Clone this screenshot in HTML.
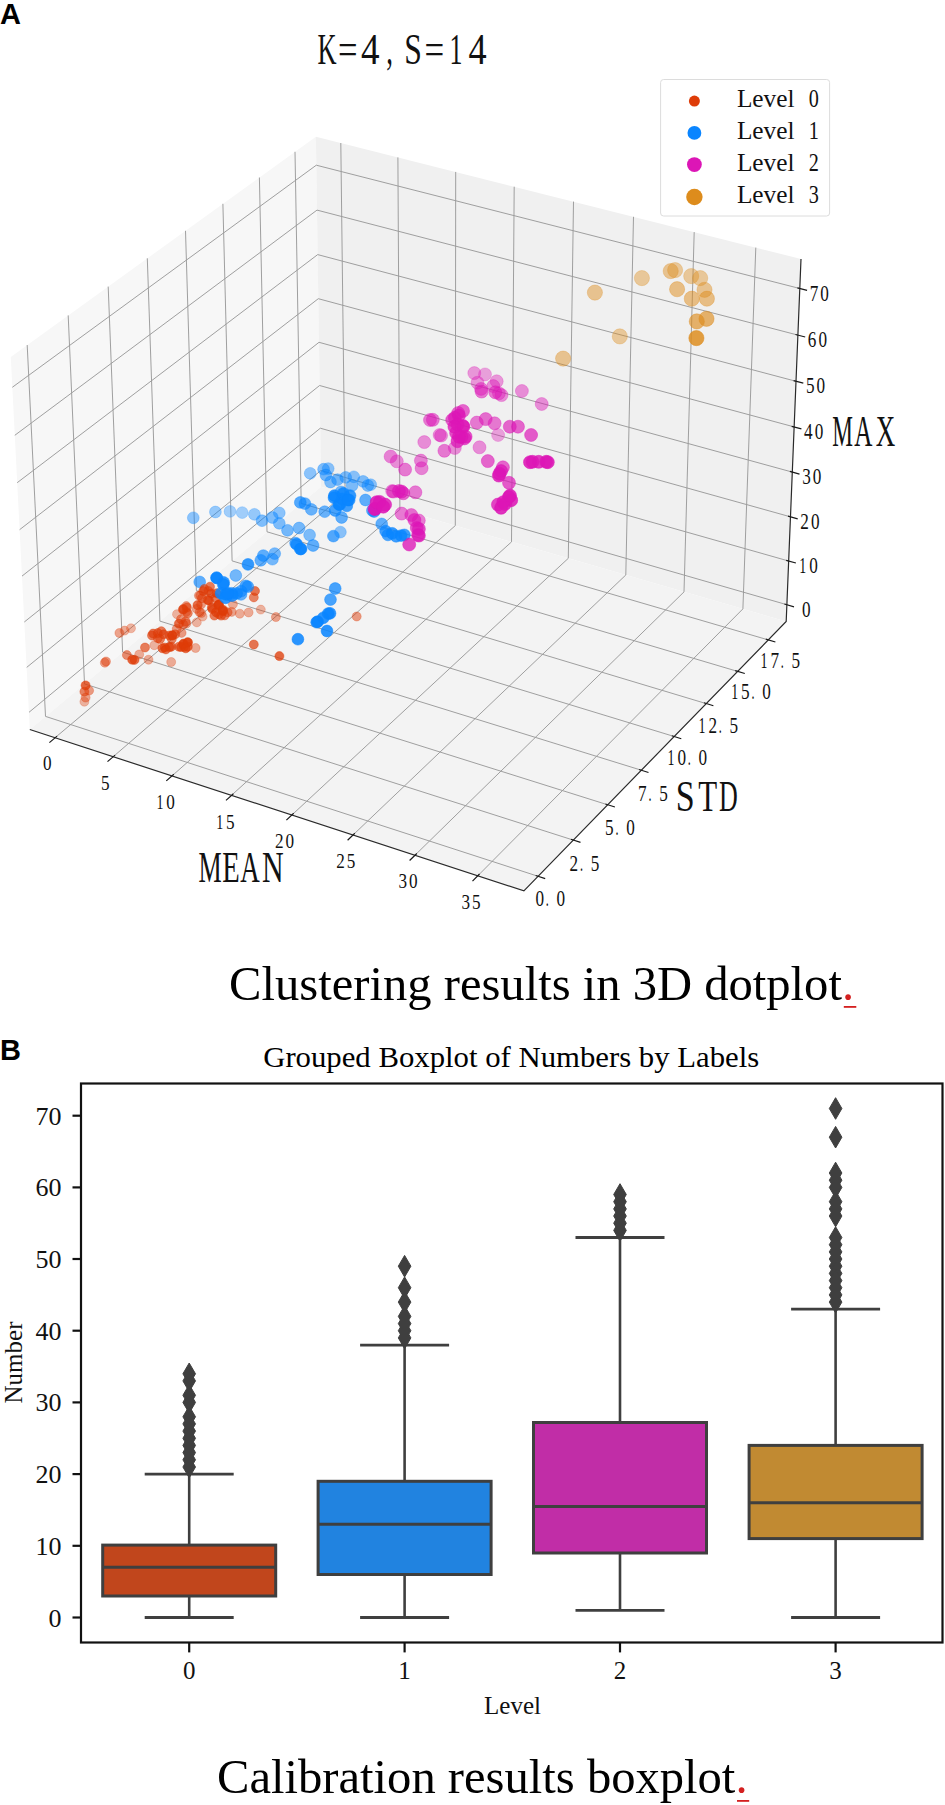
<!DOCTYPE html>
<html><head><meta charset="utf-8"><style>
html,body{margin:0;padding:0;background:#fff;width:945px;height:1805px;overflow:hidden}
svg{display:block}
</style></head><body>
<svg width="945" height="1805" viewBox="0 0 945 1805">
<rect width="945" height="1805" fill="#fff"/>
<text x="0" y="24" font-family="'Liberation Sans', sans-serif" font-weight="bold" font-size="29">A</text><g font-family="'Liberation Serif', serif" fill="#111"><text transform="translate(317.60,63.70) scale(0.592,1)" font-size="44.6" >K</text><text transform="translate(338.10,63.70) scale(0.776,1)" font-size="44.6" >=</text><text transform="translate(361.00,63.70) scale(0.831,1)" font-size="44.6" >4</text><text transform="translate(386.20,63.70) scale(0.602,1)" font-size="44.6" >,</text><text transform="translate(404.30,63.70) scale(0.711,1)" font-size="44.6" >S</text><text transform="translate(424.60,63.70) scale(0.784,1)" font-size="44.6" >=</text><text transform="translate(449.50,63.70) scale(0.580,1)" font-size="44.6" >1</text><text transform="translate(468.60,63.70) scale(0.813,1)" font-size="44.6" >4</text></g><polygon points="29.8,729.5 321.1,486.7 315.9,136.7 10.8,356.9" fill="#f7f7f7"/><polygon points="321.1,486.7 786.2,621.5 801.0,259.0 315.9,136.7" fill="#f0f0f0"/><polygon points="29.8,729.5 523.9,890.8 786.2,621.5 321.1,486.7" fill="#f3f3f3"/><path d="M55.1,737.7 L345.1,493.6 L340.8,143.0 M113.2,756.7 L399.9,509.5 L397.9,157.4 M172.0,775.9 L455.3,525.6 L455.7,171.9 M231.5,795.3 L511.5,541.9 L514.2,186.7 M291.9,815.0 L568.3,558.3 L573.5,201.6 M353.0,835.0 L625.8,575.0 L633.5,216.8 M415.0,855.2 L684.0,591.9 L694.2,232.1 M477.8,875.8 L742.9,608.9 L755.8,247.6 M538.1,876.3 L45.5,716.4 L27.2,345.0 M573.3,840.1 L84.5,683.9 L68.2,315.4 M607.7,804.8 L122.6,652.1 L108.2,286.6 M641.3,770.2 L159.9,621.1 L147.3,258.3 M674.2,736.5 L196.4,590.7 L185.5,230.8 M706.2,703.6 L232.1,560.9 L222.9,203.8 M737.6,671.4 L267.0,531.8 L259.4,177.5 M768.2,639.9 L301.2,503.4 L295.0,151.8 M29.0,712.3 L320.9,470.5 L786.8,604.7 M26.7,667.4 L320.3,428.2 L788.6,561.0 M24.3,622.0 L319.6,385.5 L790.4,516.8 M22.0,576.1 L319.0,342.3 L792.3,472.1 M19.6,529.7 L318.3,298.7 L794.1,426.9 M17.2,482.7 L317.7,254.6 L796.0,381.3 M14.8,435.3 L317.0,210.1 L797.9,335.1 M12.3,387.3 L316.3,165.2 L799.8,288.5" fill="none" stroke="#9a9a9a" stroke-width="0.95"/><path d="M29.8,729.5 L523.9,890.8 L786.2,621.5 L801.0,259.0" fill="none" stroke="#2a2a2a" stroke-width="1.2"/><path d="M49.4,742.6 L57.1,736.1 M107.5,761.6 L115.1,755.1 M166.3,780.9 L173.8,774.2 M226.0,800.4 L233.4,793.7 M286.4,820.1 L293.7,813.3 M347.6,840.2 L354.8,833.3 M409.6,860.5 L416.8,853.5 M472.5,881.1 L479.5,874.0 M545.2,878.6 L535.7,875.5 M580.5,842.4 L570.9,839.3 M614.9,807.0 L605.4,804.0 M648.5,772.5 L639.0,769.5 M681.3,738.7 L671.8,735.8 M713.4,705.7 L703.9,702.8 M744.8,673.5 L735.2,670.7 M775.4,642.0 L765.8,639.2 M794.0,606.8 L784.4,604.0 M795.9,563.0 L786.2,560.3 M797.7,518.8 L788.0,516.1 M799.5,474.1 L789.9,471.4 M801.4,428.9 L791.7,426.3 M803.3,383.2 L793.6,380.6 M805.2,337.0 L795.5,334.5 M807.1,290.4 L797.4,287.9" fill="none" stroke="#1a1a1a" stroke-width="1.2"/><g font-family="'Liberation Serif', serif" fill="#111"><text transform="translate(43.00,770.05) scale(0.800,1)" font-size="21.449704142011832" >0</text><text transform="translate(101.00,790.25) scale(0.800,1)" font-size="21.449704142011832" >5</text><text transform="translate(156.40,809.25) scale(0.651,1)" font-size="21.449704142011832" >1</text><text transform="translate(166.20,809.25) scale(0.800,1)" font-size="21.449704142011832" >0</text><text transform="translate(216.20,828.75) scale(0.651,1)" font-size="21.449704142011832" >1</text><text transform="translate(226.00,828.75) scale(0.800,1)" font-size="21.449704142011832" >5</text><text transform="translate(275.00,847.95) scale(0.800,1)" font-size="21.449704142011832" >2</text><text transform="translate(285.60,847.95) scale(0.800,1)" font-size="21.449704142011832" >0</text><text transform="translate(336.20,867.85) scale(0.800,1)" font-size="21.449704142011832" >2</text><text transform="translate(346.80,867.85) scale(0.800,1)" font-size="21.449704142011832" >5</text><text transform="translate(398.40,887.95) scale(0.800,1)" font-size="21.449704142011832" >3</text><text transform="translate(409.00,887.95) scale(0.800,1)" font-size="21.449704142011832" >0</text><text transform="translate(461.40,908.75) scale(0.800,1)" font-size="21.449704142011832" >3</text><text transform="translate(472.00,908.75) scale(0.800,1)" font-size="21.449704142011832" >5</text><text transform="translate(535.40,906.00) scale(0.773,1)" font-size="22.189349112426033" >0</text><text transform="translate(545.80,906.00) scale(0.545,1)" font-size="22.189349112426033" >.</text><text transform="translate(556.60,906.00) scale(0.773,1)" font-size="22.189349112426033" >0</text><text transform="translate(569.60,870.50) scale(0.773,1)" font-size="22.189349112426033" >2</text><text transform="translate(580.00,870.50) scale(0.545,1)" font-size="22.189349112426033" >.</text><text transform="translate(590.80,870.50) scale(0.773,1)" font-size="22.189349112426033" >5</text><text transform="translate(605.10,834.50) scale(0.773,1)" font-size="22.189349112426033" >5</text><text transform="translate(615.50,834.50) scale(0.545,1)" font-size="22.189349112426033" >.</text><text transform="translate(626.30,834.50) scale(0.773,1)" font-size="22.189349112426033" >0</text><text transform="translate(638.10,800.50) scale(0.773,1)" font-size="22.189349112426033" >7</text><text transform="translate(648.50,800.50) scale(0.545,1)" font-size="22.189349112426033" >.</text><text transform="translate(659.30,800.50) scale(0.773,1)" font-size="22.189349112426033" >5</text><text transform="translate(667.60,765.00) scale(0.629,1)" font-size="22.189349112426033" >1</text><text transform="translate(677.40,765.00) scale(0.773,1)" font-size="22.189349112426033" >0</text><text transform="translate(687.80,765.00) scale(0.545,1)" font-size="22.189349112426033" >.</text><text transform="translate(698.60,765.00) scale(0.773,1)" font-size="22.189349112426033" >0</text><text transform="translate(698.60,732.80) scale(0.629,1)" font-size="22.189349112426033" >1</text><text transform="translate(708.40,732.80) scale(0.773,1)" font-size="22.189349112426033" >2</text><text transform="translate(718.80,732.80) scale(0.545,1)" font-size="22.189349112426033" >.</text><text transform="translate(729.60,732.80) scale(0.773,1)" font-size="22.189349112426033" >5</text><text transform="translate(731.30,699.00) scale(0.629,1)" font-size="22.189349112426033" >1</text><text transform="translate(741.10,699.00) scale(0.773,1)" font-size="22.189349112426033" >5</text><text transform="translate(751.50,699.00) scale(0.545,1)" font-size="22.189349112426033" >.</text><text transform="translate(762.30,699.00) scale(0.773,1)" font-size="22.189349112426033" >0</text><text transform="translate(760.60,667.50) scale(0.629,1)" font-size="22.189349112426033" >1</text><text transform="translate(770.40,667.50) scale(0.773,1)" font-size="22.189349112426033" >7</text><text transform="translate(780.80,667.50) scale(0.545,1)" font-size="22.189349112426033" >.</text><text transform="translate(791.60,667.50) scale(0.773,1)" font-size="22.189349112426033" >5</text><text transform="translate(802.04,616.92) scale(0.773,1)" font-size="22.189349112426033" >0</text><text transform="translate(799.34,573.18) scale(0.629,1)" font-size="22.189349112426033" >1</text><text transform="translate(809.14,573.18) scale(0.773,1)" font-size="22.189349112426033" >0</text><text transform="translate(800.35,528.97) scale(0.773,1)" font-size="22.189349112426033" >2</text><text transform="translate(810.95,528.97) scale(0.773,1)" font-size="22.189349112426033" >0</text><text transform="translate(802.18,484.29) scale(0.773,1)" font-size="22.189349112426033" >3</text><text transform="translate(812.78,484.29) scale(0.773,1)" font-size="22.189349112426033" >0</text><text transform="translate(804.03,439.13) scale(0.773,1)" font-size="22.189349112426033" >4</text><text transform="translate(814.63,439.13) scale(0.773,1)" font-size="22.189349112426033" >0</text><text transform="translate(805.90,393.48) scale(0.773,1)" font-size="22.189349112426033" >5</text><text transform="translate(816.50,393.48) scale(0.773,1)" font-size="22.189349112426033" >0</text><text transform="translate(807.80,347.34) scale(0.773,1)" font-size="22.189349112426033" >6</text><text transform="translate(818.40,347.34) scale(0.773,1)" font-size="22.189349112426033" >0</text><text transform="translate(809.71,300.70) scale(0.773,1)" font-size="22.189349112426033" >7</text><text transform="translate(820.31,300.70) scale(0.773,1)" font-size="22.189349112426033" >0</text></g><g font-family="'Liberation Serif', serif" fill="#111"><text transform="translate(198.50,882.00) scale(0.585,1)" font-size="44.6" >M</text><text transform="translate(222.20,882.00) scale(0.642,1)" font-size="44.6" >E</text><text transform="translate(240.30,882.00) scale(0.605,1)" font-size="44.6" >A</text><text transform="translate(262.00,882.00) scale(0.673,1)" font-size="44.6" >N</text><text transform="translate(675.80,811.00) scale(0.764,1)" font-size="44.6" >S</text><text transform="translate(698.30,811.00) scale(0.694,1)" font-size="44.6" >T</text><text transform="translate(719.00,811.00) scale(0.583,1)" font-size="44.6" >D</text><text transform="translate(832.20,446.40) scale(0.522,1)" font-size="44.6" >M</text><text transform="translate(854.20,446.40) scale(0.564,1)" font-size="44.6" >A</text><text transform="translate(875.80,446.40) scale(0.605,1)" font-size="44.6" >X</text></g><g><circle cx="260.8" cy="609.6" r="4.5" fill="#de3c08" fill-opacity="0.36" stroke="#de3c08" stroke-opacity="0.28" stroke-width="0.8"/><circle cx="202.6" cy="616.6" r="4.5" fill="#de3c08" fill-opacity="0.36" stroke="#de3c08" stroke-opacity="0.28" stroke-width="0.8"/><circle cx="196.8" cy="622.4" r="4.5" fill="#de3c08" fill-opacity="0.36" stroke="#de3c08" stroke-opacity="0.28" stroke-width="0.8"/><circle cx="177.0" cy="614.2" r="4.5" fill="#de3c08" fill-opacity="0.36" stroke="#de3c08" stroke-opacity="0.28" stroke-width="0.8"/><circle cx="131.0" cy="628.3" r="4.5" fill="#de3c08" fill-opacity="0.36" stroke="#de3c08" stroke-opacity="0.28" stroke-width="0.8"/><circle cx="154.3" cy="645.2" r="4.5" fill="#de3c08" fill-opacity="0.36" stroke="#de3c08" stroke-opacity="0.28" stroke-width="0.8"/><circle cx="84.4" cy="701.7" r="4.5" fill="#de3c08" fill-opacity="0.36" stroke="#de3c08" stroke-opacity="0.28" stroke-width="0.8"/><circle cx="485.0" cy="374.4" r="6.5" fill="#dc16b6" fill-opacity="0.37" stroke="#dc16b6" stroke-opacity="0.28" stroke-width="0.8"/><circle cx="498.1" cy="435.0" r="6.5" fill="#dc16b6" fill-opacity="0.37" stroke="#dc16b6" stroke-opacity="0.28" stroke-width="0.8"/><circle cx="230.0" cy="511.4" r="5.9" fill="#0a85ff" fill-opacity="0.37" stroke="#0a85ff" stroke-opacity="0.28" stroke-width="0.8"/><circle cx="242.2" cy="512.6" r="5.9" fill="#0a85ff" fill-opacity="0.37" stroke="#0a85ff" stroke-opacity="0.28" stroke-width="0.8"/><circle cx="232.9" cy="604.3" r="4.5" fill="#de3c08" fill-opacity="0.40" stroke="#de3c08" stroke-opacity="0.31" stroke-width="0.8"/><circle cx="239.8" cy="613.7" r="4.5" fill="#de3c08" fill-opacity="0.40" stroke="#de3c08" stroke-opacity="0.31" stroke-width="0.8"/><circle cx="248.6" cy="612.5" r="4.5" fill="#de3c08" fill-opacity="0.40" stroke="#de3c08" stroke-opacity="0.31" stroke-width="0.8"/><circle cx="197.9" cy="604.9" r="4.5" fill="#de3c08" fill-opacity="0.40" stroke="#de3c08" stroke-opacity="0.31" stroke-width="0.8"/><circle cx="201.4" cy="613.1" r="4.5" fill="#de3c08" fill-opacity="0.40" stroke="#de3c08" stroke-opacity="0.31" stroke-width="0.8"/><circle cx="182.8" cy="609.6" r="4.5" fill="#de3c08" fill-opacity="0.40" stroke="#de3c08" stroke-opacity="0.31" stroke-width="0.8"/><circle cx="195.6" cy="648.0" r="4.5" fill="#de3c08" fill-opacity="0.40" stroke="#de3c08" stroke-opacity="0.31" stroke-width="0.8"/><circle cx="171.2" cy="662.0" r="4.5" fill="#de3c08" fill-opacity="0.40" stroke="#de3c08" stroke-opacity="0.31" stroke-width="0.8"/><circle cx="124.6" cy="630.6" r="4.5" fill="#de3c08" fill-opacity="0.40" stroke="#de3c08" stroke-opacity="0.31" stroke-width="0.8"/><circle cx="139.2" cy="654.5" r="4.5" fill="#de3c08" fill-opacity="0.40" stroke="#de3c08" stroke-opacity="0.31" stroke-width="0.8"/><circle cx="148.5" cy="659.7" r="4.5" fill="#de3c08" fill-opacity="0.40" stroke="#de3c08" stroke-opacity="0.31" stroke-width="0.8"/><circle cx="619.8" cy="336.4" r="7.6" fill="#dd8c1c" fill-opacity="0.41" stroke="#dd8c1c" stroke-opacity="0.32" stroke-width="0.8"/><circle cx="641.9" cy="278.1" r="7.6" fill="#dd8c1c" fill-opacity="0.41" stroke="#dd8c1c" stroke-opacity="0.32" stroke-width="0.8"/><circle cx="675.1" cy="270.1" r="7.6" fill="#dd8c1c" fill-opacity="0.41" stroke="#dd8c1c" stroke-opacity="0.32" stroke-width="0.8"/><circle cx="691.2" cy="276.1" r="7.6" fill="#dd8c1c" fill-opacity="0.41" stroke="#dd8c1c" stroke-opacity="0.32" stroke-width="0.8"/><circle cx="700.2" cy="278.1" r="7.6" fill="#dd8c1c" fill-opacity="0.41" stroke="#dd8c1c" stroke-opacity="0.32" stroke-width="0.8"/><circle cx="474.3" cy="373.1" r="6.5" fill="#dc16b6" fill-opacity="0.41" stroke="#dc16b6" stroke-opacity="0.32" stroke-width="0.8"/><circle cx="496.7" cy="381.3" r="6.5" fill="#dc16b6" fill-opacity="0.41" stroke="#dc16b6" stroke-opacity="0.32" stroke-width="0.8"/><circle cx="477.5" cy="382.7" r="6.5" fill="#dc16b6" fill-opacity="0.41" stroke="#dc16b6" stroke-opacity="0.32" stroke-width="0.8"/><circle cx="215.4" cy="512.0" r="5.9" fill="#0a85ff" fill-opacity="0.41" stroke="#0a85ff" stroke-opacity="0.32" stroke-width="0.8"/><circle cx="254.4" cy="514.3" r="5.9" fill="#0a85ff" fill-opacity="0.41" stroke="#0a85ff" stroke-opacity="0.32" stroke-width="0.8"/><circle cx="231.7" cy="611.9" r="4.5" fill="#de3c08" fill-opacity="0.45" stroke="#de3c08" stroke-opacity="0.34" stroke-width="0.8"/><circle cx="275.9" cy="617.1" r="4.5" fill="#de3c08" fill-opacity="0.45" stroke="#de3c08" stroke-opacity="0.34" stroke-width="0.8"/><circle cx="179.3" cy="623.6" r="4.5" fill="#de3c08" fill-opacity="0.45" stroke="#de3c08" stroke-opacity="0.34" stroke-width="0.8"/><circle cx="186.3" cy="623.6" r="4.5" fill="#de3c08" fill-opacity="0.45" stroke="#de3c08" stroke-opacity="0.34" stroke-width="0.8"/><circle cx="119.4" cy="633.0" r="4.5" fill="#de3c08" fill-opacity="0.45" stroke="#de3c08" stroke-opacity="0.34" stroke-width="0.8"/><circle cx="104.8" cy="662.7" r="4.5" fill="#de3c08" fill-opacity="0.45" stroke="#de3c08" stroke-opacity="0.34" stroke-width="0.8"/><circle cx="85.6" cy="697.6" r="4.5" fill="#de3c08" fill-opacity="0.45" stroke="#de3c08" stroke-opacity="0.34" stroke-width="0.8"/><circle cx="196.7" cy="608.9" r="4.5" fill="#de3c08" fill-opacity="0.45" stroke="#de3c08" stroke-opacity="0.34" stroke-width="0.8"/><circle cx="594.9" cy="292.6" r="7.6" fill="#dd8c1c" fill-opacity="0.46" stroke="#dd8c1c" stroke-opacity="0.35" stroke-width="0.8"/><circle cx="563.1" cy="358.6" r="7.6" fill="#dd8c1c" fill-opacity="0.46" stroke="#dd8c1c" stroke-opacity="0.35" stroke-width="0.8"/><circle cx="670.7" cy="271.1" r="7.6" fill="#dd8c1c" fill-opacity="0.46" stroke="#dd8c1c" stroke-opacity="0.35" stroke-width="0.8"/><circle cx="704.5" cy="289.8" r="7.6" fill="#dd8c1c" fill-opacity="0.46" stroke="#dd8c1c" stroke-opacity="0.35" stroke-width="0.8"/><circle cx="493.3" cy="386.1" r="6.5" fill="#dc16b6" fill-opacity="0.46" stroke="#dc16b6" stroke-opacity="0.35" stroke-width="0.8"/><circle cx="501.5" cy="395.1" r="6.5" fill="#dc16b6" fill-opacity="0.46" stroke="#dc16b6" stroke-opacity="0.35" stroke-width="0.8"/><circle cx="521.9" cy="391.0" r="6.5" fill="#dc16b6" fill-opacity="0.46" stroke="#dc16b6" stroke-opacity="0.35" stroke-width="0.8"/><circle cx="541.7" cy="404.0" r="6.5" fill="#dc16b6" fill-opacity="0.46" stroke="#dc16b6" stroke-opacity="0.35" stroke-width="0.8"/><circle cx="439.6" cy="435.0" r="6.5" fill="#dc16b6" fill-opacity="0.46" stroke="#dc16b6" stroke-opacity="0.35" stroke-width="0.8"/><circle cx="454.8" cy="448.0" r="6.5" fill="#dc16b6" fill-opacity="0.46" stroke="#dc16b6" stroke-opacity="0.35" stroke-width="0.8"/><circle cx="479.5" cy="447.3" r="6.5" fill="#dc16b6" fill-opacity="0.46" stroke="#dc16b6" stroke-opacity="0.35" stroke-width="0.8"/><circle cx="424.3" cy="442.1" r="6.5" fill="#dc16b6" fill-opacity="0.46" stroke="#dc16b6" stroke-opacity="0.35" stroke-width="0.8"/><circle cx="396.8" cy="461.3" r="6.5" fill="#dc16b6" fill-opacity="0.46" stroke="#dc16b6" stroke-opacity="0.35" stroke-width="0.8"/><circle cx="370.7" cy="484.7" r="5.9" fill="#0a85ff" fill-opacity="0.46" stroke="#0a85ff" stroke-opacity="0.35" stroke-width="0.8"/><circle cx="310.2" cy="473.3" r="5.9" fill="#0a85ff" fill-opacity="0.46" stroke="#0a85ff" stroke-opacity="0.35" stroke-width="0.8"/><circle cx="328.2" cy="468.6" r="5.9" fill="#0a85ff" fill-opacity="0.46" stroke="#0a85ff" stroke-opacity="0.35" stroke-width="0.8"/><circle cx="353.8" cy="476.8" r="5.9" fill="#0a85ff" fill-opacity="0.46" stroke="#0a85ff" stroke-opacity="0.35" stroke-width="0.8"/><circle cx="279.3" cy="512.9" r="5.9" fill="#0a85ff" fill-opacity="0.46" stroke="#0a85ff" stroke-opacity="0.35" stroke-width="0.8"/><circle cx="340.4" cy="532.1" r="5.9" fill="#0a85ff" fill-opacity="0.46" stroke="#0a85ff" stroke-opacity="0.35" stroke-width="0.8"/><circle cx="193.3" cy="517.8" r="5.9" fill="#0a85ff" fill-opacity="0.46" stroke="#0a85ff" stroke-opacity="0.35" stroke-width="0.8"/><circle cx="441.1" cy="435.6" r="6.5" fill="#dc16b6" fill-opacity="0.46" stroke="#dc16b6" stroke-opacity="0.35" stroke-width="0.8"/><circle cx="498.9" cy="393.3" r="6.5" fill="#dc16b6" fill-opacity="0.46" stroke="#dc16b6" stroke-opacity="0.35" stroke-width="0.8"/><circle cx="200.3" cy="595.6" r="4.5" fill="#de3c08" fill-opacity="0.49" stroke="#de3c08" stroke-opacity="0.37" stroke-width="0.8"/><circle cx="186.3" cy="606.1" r="4.5" fill="#de3c08" fill-opacity="0.49" stroke="#de3c08" stroke-opacity="0.37" stroke-width="0.8"/><circle cx="186.3" cy="611.9" r="4.5" fill="#de3c08" fill-opacity="0.49" stroke="#de3c08" stroke-opacity="0.37" stroke-width="0.8"/><circle cx="181.6" cy="632.9" r="4.5" fill="#de3c08" fill-opacity="0.49" stroke="#de3c08" stroke-opacity="0.37" stroke-width="0.8"/><circle cx="106.0" cy="661.5" r="4.5" fill="#de3c08" fill-opacity="0.49" stroke="#de3c08" stroke-opacity="0.37" stroke-width="0.8"/><circle cx="89.1" cy="690.6" r="4.5" fill="#de3c08" fill-opacity="0.49" stroke="#de3c08" stroke-opacity="0.37" stroke-width="0.8"/><circle cx="356.7" cy="616.5" r="4.5" fill="#de3c08" fill-opacity="0.49" stroke="#de3c08" stroke-opacity="0.37" stroke-width="0.8"/><circle cx="201.1" cy="604.4" r="4.5" fill="#de3c08" fill-opacity="0.49" stroke="#de3c08" stroke-opacity="0.37" stroke-width="0.8"/><circle cx="198.9" cy="595.6" r="4.5" fill="#de3c08" fill-opacity="0.49" stroke="#de3c08" stroke-opacity="0.37" stroke-width="0.8"/><circle cx="183.3" cy="624.4" r="4.5" fill="#de3c08" fill-opacity="0.49" stroke="#de3c08" stroke-opacity="0.37" stroke-width="0.8"/><circle cx="176.7" cy="628.9" r="4.5" fill="#de3c08" fill-opacity="0.49" stroke="#de3c08" stroke-opacity="0.37" stroke-width="0.8"/><circle cx="178.7" cy="623.8" r="4.5" fill="#de3c08" fill-opacity="0.49" stroke="#de3c08" stroke-opacity="0.37" stroke-width="0.8"/><circle cx="199.7" cy="612.2" r="4.5" fill="#de3c08" fill-opacity="0.49" stroke="#de3c08" stroke-opacity="0.37" stroke-width="0.8"/><circle cx="677.1" cy="289.2" r="7.6" fill="#dd8c1c" fill-opacity="0.51" stroke="#dd8c1c" stroke-opacity="0.39" stroke-width="0.8"/><circle cx="706.9" cy="298.7" r="7.6" fill="#dd8c1c" fill-opacity="0.51" stroke="#dd8c1c" stroke-opacity="0.39" stroke-width="0.8"/><circle cx="691.8" cy="298.7" r="7.6" fill="#dd8c1c" fill-opacity="0.51" stroke="#dd8c1c" stroke-opacity="0.39" stroke-width="0.8"/><circle cx="390.6" cy="456.5" r="6.5" fill="#dc16b6" fill-opacity="0.51" stroke="#dc16b6" stroke-opacity="0.39" stroke-width="0.8"/><circle cx="420.9" cy="460.6" r="6.5" fill="#dc16b6" fill-opacity="0.51" stroke="#dc16b6" stroke-opacity="0.39" stroke-width="0.8"/><circle cx="421.6" cy="468.2" r="6.5" fill="#dc16b6" fill-opacity="0.51" stroke="#dc16b6" stroke-opacity="0.39" stroke-width="0.8"/><circle cx="323.6" cy="469.2" r="5.9" fill="#0a85ff" fill-opacity="0.51" stroke="#0a85ff" stroke-opacity="0.39" stroke-width="0.8"/><circle cx="330.5" cy="482.0" r="5.9" fill="#0a85ff" fill-opacity="0.51" stroke="#0a85ff" stroke-opacity="0.39" stroke-width="0.8"/><circle cx="345.7" cy="477.4" r="5.9" fill="#0a85ff" fill-opacity="0.51" stroke="#0a85ff" stroke-opacity="0.39" stroke-width="0.8"/><circle cx="352.1" cy="485.5" r="5.9" fill="#0a85ff" fill-opacity="0.51" stroke="#0a85ff" stroke-opacity="0.39" stroke-width="0.8"/><circle cx="363.1" cy="481.4" r="5.9" fill="#0a85ff" fill-opacity="0.51" stroke="#0a85ff" stroke-opacity="0.39" stroke-width="0.8"/><circle cx="367.8" cy="485.5" r="5.9" fill="#0a85ff" fill-opacity="0.51" stroke="#0a85ff" stroke-opacity="0.39" stroke-width="0.8"/><circle cx="272.3" cy="517.5" r="5.9" fill="#0a85ff" fill-opacity="0.51" stroke="#0a85ff" stroke-opacity="0.39" stroke-width="0.8"/><circle cx="279.3" cy="523.3" r="5.9" fill="#0a85ff" fill-opacity="0.51" stroke="#0a85ff" stroke-opacity="0.39" stroke-width="0.8"/><circle cx="309.6" cy="535.0" r="5.9" fill="#0a85ff" fill-opacity="0.51" stroke="#0a85ff" stroke-opacity="0.39" stroke-width="0.8"/><circle cx="262.0" cy="520.7" r="5.9" fill="#0a85ff" fill-opacity="0.51" stroke="#0a85ff" stroke-opacity="0.39" stroke-width="0.8"/><circle cx="392.2" cy="491.1" r="6.5" fill="#dc16b6" fill-opacity="0.51" stroke="#dc16b6" stroke-opacity="0.39" stroke-width="0.8"/><circle cx="481.1" cy="388.9" r="6.5" fill="#dc16b6" fill-opacity="0.51" stroke="#dc16b6" stroke-opacity="0.39" stroke-width="0.8"/><circle cx="181.0" cy="619.2" r="4.5" fill="#de3c08" fill-opacity="0.53" stroke="#de3c08" stroke-opacity="0.40" stroke-width="0.8"/><circle cx="197.4" cy="605.2" r="4.5" fill="#de3c08" fill-opacity="0.53" stroke="#de3c08" stroke-opacity="0.40" stroke-width="0.8"/><circle cx="481.6" cy="391.6" r="6.5" fill="#dc16b6" fill-opacity="0.55" stroke="#dc16b6" stroke-opacity="0.42" stroke-width="0.8"/><circle cx="495.3" cy="392.3" r="6.5" fill="#dc16b6" fill-opacity="0.55" stroke="#dc16b6" stroke-opacity="0.42" stroke-width="0.8"/><circle cx="432.8" cy="419.8" r="6.5" fill="#dc16b6" fill-opacity="0.55" stroke="#dc16b6" stroke-opacity="0.42" stroke-width="0.8"/><circle cx="444.4" cy="450.8" r="6.5" fill="#dc16b6" fill-opacity="0.55" stroke="#dc16b6" stroke-opacity="0.42" stroke-width="0.8"/><circle cx="476.8" cy="422.6" r="6.5" fill="#dc16b6" fill-opacity="0.55" stroke="#dc16b6" stroke-opacity="0.42" stroke-width="0.8"/><circle cx="494.6" cy="423.3" r="6.5" fill="#dc16b6" fill-opacity="0.55" stroke="#dc16b6" stroke-opacity="0.42" stroke-width="0.8"/><circle cx="405.1" cy="469.6" r="6.5" fill="#dc16b6" fill-opacity="0.55" stroke="#dc16b6" stroke-opacity="0.42" stroke-width="0.8"/><circle cx="393.4" cy="491.6" r="6.5" fill="#dc16b6" fill-opacity="0.55" stroke="#dc16b6" stroke-opacity="0.42" stroke-width="0.8"/><circle cx="415.4" cy="492.3" r="6.5" fill="#dc16b6" fill-opacity="0.55" stroke="#dc16b6" stroke-opacity="0.42" stroke-width="0.8"/><circle cx="401.6" cy="513.6" r="6.5" fill="#dc16b6" fill-opacity="0.55" stroke="#dc16b6" stroke-opacity="0.42" stroke-width="0.8"/><circle cx="418.8" cy="520.5" r="6.5" fill="#dc16b6" fill-opacity="0.55" stroke="#dc16b6" stroke-opacity="0.42" stroke-width="0.8"/><circle cx="325.9" cy="475.0" r="5.9" fill="#0a85ff" fill-opacity="0.55" stroke="#0a85ff" stroke-opacity="0.42" stroke-width="0.8"/><circle cx="337.5" cy="479.7" r="5.9" fill="#0a85ff" fill-opacity="0.55" stroke="#0a85ff" stroke-opacity="0.42" stroke-width="0.8"/><circle cx="341.0" cy="491.9" r="5.9" fill="#0a85ff" fill-opacity="0.55" stroke="#0a85ff" stroke-opacity="0.42" stroke-width="0.8"/><circle cx="287.5" cy="530.3" r="5.9" fill="#0a85ff" fill-opacity="0.55" stroke="#0a85ff" stroke-opacity="0.42" stroke-width="0.8"/><circle cx="299.1" cy="528.0" r="5.9" fill="#0a85ff" fill-opacity="0.55" stroke="#0a85ff" stroke-opacity="0.42" stroke-width="0.8"/><circle cx="274.7" cy="553.6" r="5.9" fill="#0a85ff" fill-opacity="0.55" stroke="#0a85ff" stroke-opacity="0.42" stroke-width="0.8"/><circle cx="272.4" cy="559.2" r="5.9" fill="#0a85ff" fill-opacity="0.55" stroke="#0a85ff" stroke-opacity="0.42" stroke-width="0.8"/><circle cx="235.8" cy="575.5" r="5.9" fill="#0a85ff" fill-opacity="0.55" stroke="#0a85ff" stroke-opacity="0.42" stroke-width="0.8"/><circle cx="430.0" cy="420.0" r="6.5" fill="#dc16b6" fill-opacity="0.55" stroke="#dc16b6" stroke-opacity="0.42" stroke-width="0.8"/><circle cx="208.4" cy="591.0" r="4.5" fill="#de3c08" fill-opacity="0.57" stroke="#de3c08" stroke-opacity="0.43" stroke-width="0.8"/><circle cx="224.7" cy="615.4" r="4.5" fill="#de3c08" fill-opacity="0.57" stroke="#de3c08" stroke-opacity="0.43" stroke-width="0.8"/><circle cx="218.9" cy="614.2" r="4.5" fill="#de3c08" fill-opacity="0.57" stroke="#de3c08" stroke-opacity="0.43" stroke-width="0.8"/><circle cx="126.9" cy="655.1" r="4.5" fill="#de3c08" fill-opacity="0.57" stroke="#de3c08" stroke-opacity="0.43" stroke-width="0.8"/><circle cx="157.8" cy="638.2" r="4.5" fill="#de3c08" fill-opacity="0.57" stroke="#de3c08" stroke-opacity="0.43" stroke-width="0.8"/><circle cx="183.3" cy="608.9" r="4.5" fill="#de3c08" fill-opacity="0.57" stroke="#de3c08" stroke-opacity="0.43" stroke-width="0.8"/><circle cx="183.4" cy="609.8" r="4.5" fill="#de3c08" fill-opacity="0.57" stroke="#de3c08" stroke-opacity="0.43" stroke-width="0.8"/><circle cx="185.7" cy="621.5" r="4.5" fill="#de3c08" fill-opacity="0.57" stroke="#de3c08" stroke-opacity="0.43" stroke-width="0.8"/><circle cx="202.0" cy="598.2" r="4.5" fill="#de3c08" fill-opacity="0.57" stroke="#de3c08" stroke-opacity="0.43" stroke-width="0.8"/><circle cx="227.6" cy="612.2" r="4.5" fill="#de3c08" fill-opacity="0.57" stroke="#de3c08" stroke-opacity="0.43" stroke-width="0.8"/><circle cx="485.7" cy="419.1" r="6.5" fill="#dc16b6" fill-opacity="0.60" stroke="#dc16b6" stroke-opacity="0.45" stroke-width="0.8"/><circle cx="411.3" cy="515.0" r="6.5" fill="#dc16b6" fill-opacity="0.60" stroke="#dc16b6" stroke-opacity="0.45" stroke-width="0.8"/><circle cx="324.7" cy="511.7" r="5.9" fill="#0a85ff" fill-opacity="0.60" stroke="#0a85ff" stroke-opacity="0.45" stroke-width="0.8"/><circle cx="311.3" cy="509.4" r="5.9" fill="#0a85ff" fill-opacity="0.60" stroke="#0a85ff" stroke-opacity="0.45" stroke-width="0.8"/><circle cx="253.8" cy="597.4" r="4.5" fill="#de3c08" fill-opacity="0.61" stroke="#de3c08" stroke-opacity="0.46" stroke-width="0.8"/><circle cx="84.4" cy="691.8" r="4.5" fill="#de3c08" fill-opacity="0.61" stroke="#de3c08" stroke-opacity="0.46" stroke-width="0.8"/><circle cx="187.8" cy="613.3" r="4.5" fill="#de3c08" fill-opacity="0.61" stroke="#de3c08" stroke-opacity="0.46" stroke-width="0.8"/><circle cx="175.2" cy="634.3" r="4.5" fill="#de3c08" fill-opacity="0.61" stroke="#de3c08" stroke-opacity="0.46" stroke-width="0.8"/><circle cx="171.8" cy="639.0" r="4.5" fill="#de3c08" fill-opacity="0.61" stroke="#de3c08" stroke-opacity="0.46" stroke-width="0.8"/><circle cx="186.9" cy="607.5" r="4.5" fill="#de3c08" fill-opacity="0.61" stroke="#de3c08" stroke-opacity="0.46" stroke-width="0.8"/><circle cx="696.8" cy="321.4" r="7.6" fill="#dd8c1c" fill-opacity="0.64" stroke="#dd8c1c" stroke-opacity="0.49" stroke-width="0.8"/><circle cx="706.5" cy="318.8" r="7.6" fill="#dd8c1c" fill-opacity="0.64" stroke="#dd8c1c" stroke-opacity="0.49" stroke-width="0.8"/><circle cx="458.2" cy="413.0" r="6.5" fill="#dc16b6" fill-opacity="0.64" stroke="#dc16b6" stroke-opacity="0.49" stroke-width="0.8"/><circle cx="463.0" cy="410.9" r="6.5" fill="#dc16b6" fill-opacity="0.64" stroke="#dc16b6" stroke-opacity="0.49" stroke-width="0.8"/><circle cx="509.8" cy="426.7" r="6.5" fill="#dc16b6" fill-opacity="0.64" stroke="#dc16b6" stroke-opacity="0.49" stroke-width="0.8"/><circle cx="518.0" cy="426.7" r="6.5" fill="#dc16b6" fill-opacity="0.64" stroke="#dc16b6" stroke-opacity="0.49" stroke-width="0.8"/><circle cx="487.8" cy="461.1" r="6.5" fill="#dc16b6" fill-opacity="0.64" stroke="#dc16b6" stroke-opacity="0.49" stroke-width="0.8"/><circle cx="502.9" cy="467.3" r="6.5" fill="#dc16b6" fill-opacity="0.64" stroke="#dc16b6" stroke-opacity="0.49" stroke-width="0.8"/><circle cx="381.7" cy="523.9" r="5.9" fill="#0a85ff" fill-opacity="0.64" stroke="#0a85ff" stroke-opacity="0.49" stroke-width="0.8"/><circle cx="341.6" cy="517.5" r="5.9" fill="#0a85ff" fill-opacity="0.64" stroke="#0a85ff" stroke-opacity="0.49" stroke-width="0.8"/><circle cx="304.9" cy="503.6" r="5.9" fill="#0a85ff" fill-opacity="0.64" stroke="#0a85ff" stroke-opacity="0.49" stroke-width="0.8"/><circle cx="365.5" cy="500.0" r="5.9" fill="#0a85ff" fill-opacity="0.64" stroke="#0a85ff" stroke-opacity="0.49" stroke-width="0.8"/><circle cx="372.4" cy="510.5" r="5.9" fill="#0a85ff" fill-opacity="0.64" stroke="#0a85ff" stroke-opacity="0.49" stroke-width="0.8"/><circle cx="313.1" cy="545.5" r="5.9" fill="#0a85ff" fill-opacity="0.64" stroke="#0a85ff" stroke-opacity="0.49" stroke-width="0.8"/><circle cx="260.8" cy="560.3" r="5.9" fill="#0a85ff" fill-opacity="0.64" stroke="#0a85ff" stroke-opacity="0.49" stroke-width="0.8"/><circle cx="199.7" cy="581.9" r="5.9" fill="#0a85ff" fill-opacity="0.64" stroke="#0a85ff" stroke-opacity="0.49" stroke-width="0.8"/><circle cx="241.0" cy="594.4" r="5.9" fill="#0a85ff" fill-opacity="0.64" stroke="#0a85ff" stroke-opacity="0.49" stroke-width="0.8"/><circle cx="403.3" cy="493.3" r="6.5" fill="#dc16b6" fill-opacity="0.64" stroke="#dc16b6" stroke-opacity="0.49" stroke-width="0.8"/><circle cx="241.1" cy="591.1" r="5.9" fill="#0a85ff" fill-opacity="0.64" stroke="#0a85ff" stroke-opacity="0.49" stroke-width="0.8"/><circle cx="263.3" cy="555.6" r="5.9" fill="#0a85ff" fill-opacity="0.64" stroke="#0a85ff" stroke-opacity="0.49" stroke-width="0.8"/><circle cx="215.4" cy="597.9" r="4.5" fill="#de3c08" fill-opacity="0.65" stroke="#de3c08" stroke-opacity="0.49" stroke-width="0.8"/><circle cx="211.9" cy="607.3" r="4.5" fill="#de3c08" fill-opacity="0.65" stroke="#de3c08" stroke-opacity="0.49" stroke-width="0.8"/><circle cx="145.0" cy="647.5" r="4.5" fill="#de3c08" fill-opacity="0.65" stroke="#de3c08" stroke-opacity="0.49" stroke-width="0.8"/><circle cx="161.3" cy="631.2" r="4.5" fill="#de3c08" fill-opacity="0.65" stroke="#de3c08" stroke-opacity="0.49" stroke-width="0.8"/><circle cx="210.0" cy="586.7" r="4.5" fill="#de3c08" fill-opacity="0.65" stroke="#de3c08" stroke-opacity="0.49" stroke-width="0.8"/><circle cx="214.4" cy="615.6" r="4.5" fill="#de3c08" fill-opacity="0.65" stroke="#de3c08" stroke-opacity="0.49" stroke-width="0.8"/><circle cx="178.9" cy="646.7" r="4.5" fill="#de3c08" fill-opacity="0.65" stroke="#de3c08" stroke-opacity="0.49" stroke-width="0.8"/><circle cx="152.0" cy="635.5" r="4.5" fill="#de3c08" fill-opacity="0.65" stroke="#de3c08" stroke-opacity="0.49" stroke-width="0.8"/><circle cx="169.4" cy="635.5" r="4.5" fill="#de3c08" fill-opacity="0.65" stroke="#de3c08" stroke-opacity="0.49" stroke-width="0.8"/><circle cx="160.1" cy="639.0" r="4.5" fill="#de3c08" fill-opacity="0.65" stroke="#de3c08" stroke-opacity="0.49" stroke-width="0.8"/><circle cx="204.4" cy="588.9" r="4.5" fill="#de3c08" fill-opacity="0.65" stroke="#de3c08" stroke-opacity="0.49" stroke-width="0.8"/><circle cx="255.0" cy="591.0" r="4.5" fill="#de3c08" fill-opacity="0.69" stroke="#de3c08" stroke-opacity="0.52" stroke-width="0.8"/><circle cx="253.8" cy="644.5" r="4.5" fill="#de3c08" fill-opacity="0.69" stroke="#de3c08" stroke-opacity="0.52" stroke-width="0.8"/><circle cx="222.4" cy="610.7" r="4.5" fill="#de3c08" fill-opacity="0.69" stroke="#de3c08" stroke-opacity="0.52" stroke-width="0.8"/><circle cx="172.3" cy="635.2" r="4.5" fill="#de3c08" fill-opacity="0.69" stroke="#de3c08" stroke-opacity="0.52" stroke-width="0.8"/><circle cx="184.0" cy="646.8" r="4.5" fill="#de3c08" fill-opacity="0.69" stroke="#de3c08" stroke-opacity="0.52" stroke-width="0.8"/><circle cx="171.2" cy="646.8" r="4.5" fill="#de3c08" fill-opacity="0.69" stroke="#de3c08" stroke-opacity="0.52" stroke-width="0.8"/><circle cx="164.8" cy="647.5" r="4.5" fill="#de3c08" fill-opacity="0.69" stroke="#de3c08" stroke-opacity="0.52" stroke-width="0.8"/><circle cx="153.1" cy="633.6" r="4.5" fill="#de3c08" fill-opacity="0.69" stroke="#de3c08" stroke-opacity="0.52" stroke-width="0.8"/><circle cx="203.3" cy="591.1" r="4.5" fill="#de3c08" fill-opacity="0.69" stroke="#de3c08" stroke-opacity="0.52" stroke-width="0.8"/><circle cx="216.7" cy="593.3" r="4.5" fill="#de3c08" fill-opacity="0.69" stroke="#de3c08" stroke-opacity="0.52" stroke-width="0.8"/><circle cx="221.1" cy="615.6" r="4.5" fill="#de3c08" fill-opacity="0.69" stroke="#de3c08" stroke-opacity="0.52" stroke-width="0.8"/><circle cx="183.3" cy="644.4" r="4.5" fill="#de3c08" fill-opacity="0.69" stroke="#de3c08" stroke-opacity="0.52" stroke-width="0.8"/><circle cx="172.2" cy="635.6" r="4.5" fill="#de3c08" fill-opacity="0.69" stroke="#de3c08" stroke-opacity="0.52" stroke-width="0.8"/><circle cx="157.8" cy="633.1" r="4.5" fill="#de3c08" fill-opacity="0.69" stroke="#de3c08" stroke-opacity="0.52" stroke-width="0.8"/><circle cx="163.6" cy="634.3" r="4.5" fill="#de3c08" fill-opacity="0.69" stroke="#de3c08" stroke-opacity="0.52" stroke-width="0.8"/><circle cx="165.9" cy="649.4" r="4.5" fill="#de3c08" fill-opacity="0.69" stroke="#de3c08" stroke-opacity="0.52" stroke-width="0.8"/><circle cx="211.3" cy="593.6" r="4.5" fill="#de3c08" fill-opacity="0.69" stroke="#de3c08" stroke-opacity="0.52" stroke-width="0.8"/><circle cx="209.0" cy="600.5" r="4.5" fill="#de3c08" fill-opacity="0.69" stroke="#de3c08" stroke-opacity="0.52" stroke-width="0.8"/><circle cx="216.0" cy="612.2" r="4.5" fill="#de3c08" fill-opacity="0.69" stroke="#de3c08" stroke-opacity="0.52" stroke-width="0.8"/><circle cx="464.4" cy="438.4" r="6.5" fill="#dc16b6" fill-opacity="0.69" stroke="#dc16b6" stroke-opacity="0.52" stroke-width="0.8"/><circle cx="531.1" cy="435.0" r="6.5" fill="#dc16b6" fill-opacity="0.69" stroke="#dc16b6" stroke-opacity="0.52" stroke-width="0.8"/><circle cx="401.6" cy="491.6" r="6.5" fill="#dc16b6" fill-opacity="0.69" stroke="#dc16b6" stroke-opacity="0.52" stroke-width="0.8"/><circle cx="416.8" cy="528.0" r="6.5" fill="#dc16b6" fill-opacity="0.69" stroke="#dc16b6" stroke-opacity="0.52" stroke-width="0.8"/><circle cx="418.1" cy="534.9" r="6.5" fill="#dc16b6" fill-opacity="0.69" stroke="#dc16b6" stroke-opacity="0.52" stroke-width="0.8"/><circle cx="509.0" cy="482.8" r="6.5" fill="#dc16b6" fill-opacity="0.69" stroke="#dc16b6" stroke-opacity="0.52" stroke-width="0.8"/><circle cx="300.3" cy="502.4" r="5.9" fill="#0a85ff" fill-opacity="0.69" stroke="#0a85ff" stroke-opacity="0.52" stroke-width="0.8"/><circle cx="295.6" cy="543.1" r="5.9" fill="#0a85ff" fill-opacity="0.69" stroke="#0a85ff" stroke-opacity="0.52" stroke-width="0.8"/><circle cx="333.4" cy="536.1" r="5.9" fill="#0a85ff" fill-opacity="0.69" stroke="#0a85ff" stroke-opacity="0.52" stroke-width="0.8"/><circle cx="245.7" cy="585.9" r="5.9" fill="#0a85ff" fill-opacity="0.69" stroke="#0a85ff" stroke-opacity="0.52" stroke-width="0.8"/><circle cx="452.2" cy="420.0" r="6.5" fill="#dc16b6" fill-opacity="0.69" stroke="#dc16b6" stroke-opacity="0.52" stroke-width="0.8"/><circle cx="398.9" cy="491.1" r="6.5" fill="#dc16b6" fill-opacity="0.69" stroke="#dc16b6" stroke-opacity="0.52" stroke-width="0.8"/><circle cx="414.4" cy="520.0" r="6.5" fill="#dc16b6" fill-opacity="0.69" stroke="#dc16b6" stroke-opacity="0.52" stroke-width="0.8"/><circle cx="247.8" cy="586.7" r="5.9" fill="#0a85ff" fill-opacity="0.69" stroke="#0a85ff" stroke-opacity="0.52" stroke-width="0.8"/><circle cx="218.9" cy="604.9" r="4.5" fill="#de3c08" fill-opacity="0.73" stroke="#de3c08" stroke-opacity="0.55" stroke-width="0.8"/><circle cx="187.5" cy="642.2" r="4.5" fill="#de3c08" fill-opacity="0.73" stroke="#de3c08" stroke-opacity="0.55" stroke-width="0.8"/><circle cx="207.8" cy="600.0" r="4.5" fill="#de3c08" fill-opacity="0.73" stroke="#de3c08" stroke-opacity="0.55" stroke-width="0.8"/><circle cx="218.9" cy="604.4" r="4.5" fill="#de3c08" fill-opacity="0.73" stroke="#de3c08" stroke-opacity="0.55" stroke-width="0.8"/><circle cx="212.2" cy="608.9" r="4.5" fill="#de3c08" fill-opacity="0.73" stroke="#de3c08" stroke-opacity="0.55" stroke-width="0.8"/><circle cx="223.3" cy="611.1" r="4.5" fill="#de3c08" fill-opacity="0.73" stroke="#de3c08" stroke-opacity="0.55" stroke-width="0.8"/><circle cx="187.8" cy="646.7" r="4.5" fill="#de3c08" fill-opacity="0.73" stroke="#de3c08" stroke-opacity="0.55" stroke-width="0.8"/><circle cx="162.4" cy="648.3" r="4.5" fill="#de3c08" fill-opacity="0.73" stroke="#de3c08" stroke-opacity="0.55" stroke-width="0.8"/><circle cx="169.4" cy="647.1" r="4.5" fill="#de3c08" fill-opacity="0.73" stroke="#de3c08" stroke-opacity="0.55" stroke-width="0.8"/><circle cx="181.0" cy="647.1" r="4.5" fill="#de3c08" fill-opacity="0.73" stroke="#de3c08" stroke-opacity="0.55" stroke-width="0.8"/><circle cx="218.3" cy="605.2" r="4.5" fill="#de3c08" fill-opacity="0.73" stroke="#de3c08" stroke-opacity="0.55" stroke-width="0.8"/><circle cx="223.0" cy="609.8" r="4.5" fill="#de3c08" fill-opacity="0.73" stroke="#de3c08" stroke-opacity="0.55" stroke-width="0.8"/><circle cx="134.5" cy="659.9" r="4.5" fill="#de3c08" fill-opacity="0.73" stroke="#de3c08" stroke-opacity="0.55" stroke-width="0.8"/><circle cx="454.8" cy="417.8" r="6.5" fill="#dc16b6" fill-opacity="0.74" stroke="#dc16b6" stroke-opacity="0.56" stroke-width="0.8"/><circle cx="463.0" cy="426.0" r="6.5" fill="#dc16b6" fill-opacity="0.74" stroke="#dc16b6" stroke-opacity="0.56" stroke-width="0.8"/><circle cx="456.1" cy="432.9" r="6.5" fill="#dc16b6" fill-opacity="0.74" stroke="#dc16b6" stroke-opacity="0.56" stroke-width="0.8"/><circle cx="461.6" cy="437.0" r="6.5" fill="#dc16b6" fill-opacity="0.74" stroke="#dc16b6" stroke-opacity="0.56" stroke-width="0.8"/><circle cx="457.5" cy="441.2" r="6.5" fill="#dc16b6" fill-opacity="0.74" stroke="#dc16b6" stroke-opacity="0.56" stroke-width="0.8"/><circle cx="374.1" cy="511.5" r="5.9" fill="#0a85ff" fill-opacity="0.74" stroke="#0a85ff" stroke-opacity="0.56" stroke-width="0.8"/><circle cx="387.9" cy="534.9" r="5.9" fill="#0a85ff" fill-opacity="0.74" stroke="#0a85ff" stroke-opacity="0.56" stroke-width="0.8"/><circle cx="335.2" cy="510.5" r="5.9" fill="#0a85ff" fill-opacity="0.74" stroke="#0a85ff" stroke-opacity="0.56" stroke-width="0.8"/><circle cx="335.2" cy="588.5" r="5.9" fill="#0a85ff" fill-opacity="0.74" stroke="#0a85ff" stroke-opacity="0.56" stroke-width="0.8"/><circle cx="330.5" cy="599.6" r="5.9" fill="#0a85ff" fill-opacity="0.74" stroke="#0a85ff" stroke-opacity="0.56" stroke-width="0.8"/><circle cx="458.9" cy="415.6" r="6.5" fill="#dc16b6" fill-opacity="0.74" stroke="#dc16b6" stroke-opacity="0.56" stroke-width="0.8"/><circle cx="465.6" cy="436.7" r="6.5" fill="#dc16b6" fill-opacity="0.74" stroke="#dc16b6" stroke-opacity="0.56" stroke-width="0.8"/><circle cx="418.9" cy="528.9" r="6.5" fill="#dc16b6" fill-opacity="0.74" stroke="#dc16b6" stroke-opacity="0.56" stroke-width="0.8"/><circle cx="418.9" cy="535.6" r="6.5" fill="#dc16b6" fill-opacity="0.74" stroke="#dc16b6" stroke-opacity="0.56" stroke-width="0.8"/><circle cx="236.7" cy="593.3" r="5.9" fill="#0a85ff" fill-opacity="0.74" stroke="#0a85ff" stroke-opacity="0.56" stroke-width="0.8"/><circle cx="279.4" cy="656.1" r="4.5" fill="#de3c08" fill-opacity="0.77" stroke="#de3c08" stroke-opacity="0.59" stroke-width="0.8"/><circle cx="132.2" cy="659.7" r="4.5" fill="#de3c08" fill-opacity="0.77" stroke="#de3c08" stroke-opacity="0.59" stroke-width="0.8"/><circle cx="85.6" cy="685.4" r="4.5" fill="#de3c08" fill-opacity="0.77" stroke="#de3c08" stroke-opacity="0.59" stroke-width="0.8"/><circle cx="183.4" cy="643.6" r="4.5" fill="#de3c08" fill-opacity="0.77" stroke="#de3c08" stroke-opacity="0.59" stroke-width="0.8"/><circle cx="188.0" cy="642.4" r="4.5" fill="#de3c08" fill-opacity="0.77" stroke="#de3c08" stroke-opacity="0.59" stroke-width="0.8"/><circle cx="185.7" cy="648.3" r="4.5" fill="#de3c08" fill-opacity="0.77" stroke="#de3c08" stroke-opacity="0.59" stroke-width="0.8"/><circle cx="457.5" cy="424.6" r="6.5" fill="#dc16b6" fill-opacity="0.78" stroke="#dc16b6" stroke-opacity="0.59" stroke-width="0.8"/><circle cx="497.9" cy="504.6" r="6.5" fill="#dc16b6" fill-opacity="0.78" stroke="#dc16b6" stroke-opacity="0.59" stroke-width="0.8"/><circle cx="396.1" cy="536.3" r="5.9" fill="#0a85ff" fill-opacity="0.78" stroke="#0a85ff" stroke-opacity="0.59" stroke-width="0.8"/><circle cx="404.4" cy="534.9" r="5.9" fill="#0a85ff" fill-opacity="0.78" stroke="#0a85ff" stroke-opacity="0.59" stroke-width="0.8"/><circle cx="409.2" cy="544.5" r="6.5" fill="#dc16b6" fill-opacity="0.78" stroke="#dc16b6" stroke-opacity="0.59" stroke-width="0.8"/><circle cx="346.8" cy="505.9" r="5.9" fill="#0a85ff" fill-opacity="0.78" stroke="#0a85ff" stroke-opacity="0.59" stroke-width="0.8"/><circle cx="231.7" cy="593.3" r="5.9" fill="#0a85ff" fill-opacity="0.78" stroke="#0a85ff" stroke-opacity="0.59" stroke-width="0.8"/><circle cx="463.3" cy="426.7" r="6.5" fill="#dc16b6" fill-opacity="0.78" stroke="#dc16b6" stroke-opacity="0.59" stroke-width="0.8"/><circle cx="454.4" cy="426.7" r="6.5" fill="#dc16b6" fill-opacity="0.78" stroke="#dc16b6" stroke-opacity="0.59" stroke-width="0.8"/><circle cx="458.9" cy="436.7" r="6.5" fill="#dc16b6" fill-opacity="0.78" stroke="#dc16b6" stroke-opacity="0.59" stroke-width="0.8"/><circle cx="385.6" cy="531.1" r="5.9" fill="#0a85ff" fill-opacity="0.78" stroke="#0a85ff" stroke-opacity="0.59" stroke-width="0.8"/><circle cx="501.1" cy="471.1" r="6.5" fill="#dc16b6" fill-opacity="0.78" stroke="#dc16b6" stroke-opacity="0.59" stroke-width="0.8"/><circle cx="296.7" cy="544.4" r="5.9" fill="#0a85ff" fill-opacity="0.78" stroke="#0a85ff" stroke-opacity="0.59" stroke-width="0.8"/><circle cx="696.4" cy="338.1" r="7.6" fill="#dd8c1c" fill-opacity="0.83" stroke="#dd8c1c" stroke-opacity="0.63" stroke-width="0.8"/><circle cx="532.5" cy="461.8" r="6.5" fill="#dc16b6" fill-opacity="0.83" stroke="#dc16b6" stroke-opacity="0.63" stroke-width="0.8"/><circle cx="538.7" cy="461.8" r="6.5" fill="#dc16b6" fill-opacity="0.83" stroke="#dc16b6" stroke-opacity="0.63" stroke-width="0.8"/><circle cx="546.2" cy="461.8" r="6.5" fill="#dc16b6" fill-opacity="0.83" stroke="#dc16b6" stroke-opacity="0.63" stroke-width="0.8"/><circle cx="379.6" cy="501.9" r="6.5" fill="#dc16b6" fill-opacity="0.83" stroke="#dc16b6" stroke-opacity="0.63" stroke-width="0.8"/><circle cx="385.1" cy="504.6" r="6.5" fill="#dc16b6" fill-opacity="0.83" stroke="#dc16b6" stroke-opacity="0.63" stroke-width="0.8"/><circle cx="375.5" cy="508.8" r="6.5" fill="#dc16b6" fill-opacity="0.83" stroke="#dc16b6" stroke-opacity="0.63" stroke-width="0.8"/><circle cx="499.5" cy="473.8" r="6.5" fill="#dc16b6" fill-opacity="0.83" stroke="#dc16b6" stroke-opacity="0.63" stroke-width="0.8"/><circle cx="334.0" cy="497.7" r="5.9" fill="#0a85ff" fill-opacity="0.83" stroke="#0a85ff" stroke-opacity="0.63" stroke-width="0.8"/><circle cx="349.2" cy="500.0" r="5.9" fill="#0a85ff" fill-opacity="0.83" stroke="#0a85ff" stroke-opacity="0.63" stroke-width="0.8"/><circle cx="339.8" cy="504.7" r="5.9" fill="#0a85ff" fill-opacity="0.83" stroke="#0a85ff" stroke-opacity="0.63" stroke-width="0.8"/><circle cx="300.3" cy="549.0" r="5.9" fill="#0a85ff" fill-opacity="0.83" stroke="#0a85ff" stroke-opacity="0.63" stroke-width="0.8"/><circle cx="248.0" cy="564.4" r="5.9" fill="#0a85ff" fill-opacity="0.83" stroke="#0a85ff" stroke-opacity="0.63" stroke-width="0.8"/><circle cx="216.6" cy="577.8" r="5.9" fill="#0a85ff" fill-opacity="0.83" stroke="#0a85ff" stroke-opacity="0.63" stroke-width="0.8"/><circle cx="223.6" cy="582.4" r="5.9" fill="#0a85ff" fill-opacity="0.83" stroke="#0a85ff" stroke-opacity="0.63" stroke-width="0.8"/><circle cx="225.9" cy="594.4" r="5.9" fill="#0a85ff" fill-opacity="0.83" stroke="#0a85ff" stroke-opacity="0.63" stroke-width="0.8"/><circle cx="374.4" cy="508.9" r="6.5" fill="#dc16b6" fill-opacity="0.83" stroke="#dc16b6" stroke-opacity="0.63" stroke-width="0.8"/><circle cx="392.2" cy="533.3" r="5.9" fill="#0a85ff" fill-opacity="0.83" stroke="#0a85ff" stroke-opacity="0.63" stroke-width="0.8"/><circle cx="401.1" cy="535.6" r="5.9" fill="#0a85ff" fill-opacity="0.83" stroke="#0a85ff" stroke-opacity="0.63" stroke-width="0.8"/><circle cx="498.9" cy="475.6" r="6.5" fill="#dc16b6" fill-opacity="0.83" stroke="#dc16b6" stroke-opacity="0.63" stroke-width="0.8"/><circle cx="232.2" cy="595.6" r="5.9" fill="#0a85ff" fill-opacity="0.83" stroke="#0a85ff" stroke-opacity="0.63" stroke-width="0.8"/><circle cx="221.1" cy="593.3" r="5.9" fill="#0a85ff" fill-opacity="0.83" stroke="#0a85ff" stroke-opacity="0.63" stroke-width="0.8"/><circle cx="225.6" cy="597.8" r="5.9" fill="#0a85ff" fill-opacity="0.83" stroke="#0a85ff" stroke-opacity="0.63" stroke-width="0.8"/><circle cx="338.9" cy="504.4" r="5.9" fill="#0a85ff" fill-opacity="0.83" stroke="#0a85ff" stroke-opacity="0.63" stroke-width="0.8"/><circle cx="350.0" cy="495.6" r="5.9" fill="#0a85ff" fill-opacity="0.83" stroke="#0a85ff" stroke-opacity="0.63" stroke-width="0.8"/><circle cx="509.0" cy="497.0" r="6.5" fill="#dc16b6" fill-opacity="0.87" stroke="#dc16b6" stroke-opacity="0.66" stroke-width="0.8"/><circle cx="511.2" cy="500.2" r="6.5" fill="#dc16b6" fill-opacity="0.87" stroke="#dc16b6" stroke-opacity="0.66" stroke-width="0.8"/><circle cx="505.0" cy="504.0" r="6.5" fill="#dc16b6" fill-opacity="0.87" stroke="#dc16b6" stroke-opacity="0.66" stroke-width="0.8"/><circle cx="342.2" cy="498.9" r="5.9" fill="#0a85ff" fill-opacity="0.87" stroke="#0a85ff" stroke-opacity="0.66" stroke-width="0.8"/><circle cx="328.2" cy="613.6" r="5.9" fill="#0a85ff" fill-opacity="0.87" stroke="#0a85ff" stroke-opacity="0.66" stroke-width="0.8"/><circle cx="317.7" cy="621.7" r="5.9" fill="#0a85ff" fill-opacity="0.87" stroke="#0a85ff" stroke-opacity="0.66" stroke-width="0.8"/><circle cx="327.0" cy="631.0" r="5.9" fill="#0a85ff" fill-opacity="0.87" stroke="#0a85ff" stroke-opacity="0.66" stroke-width="0.8"/><circle cx="297.9" cy="639.2" r="5.9" fill="#0a85ff" fill-opacity="0.87" stroke="#0a85ff" stroke-opacity="0.66" stroke-width="0.8"/><circle cx="503.3" cy="502.2" r="6.5" fill="#dc16b6" fill-opacity="0.87" stroke="#dc16b6" stroke-opacity="0.66" stroke-width="0.8"/><circle cx="510.0" cy="495.6" r="6.5" fill="#dc16b6" fill-opacity="0.87" stroke="#dc16b6" stroke-opacity="0.66" stroke-width="0.8"/><circle cx="501.1" cy="507.8" r="6.5" fill="#dc16b6" fill-opacity="0.87" stroke="#dc16b6" stroke-opacity="0.66" stroke-width="0.8"/><circle cx="376.7" cy="502.2" r="6.5" fill="#dc16b6" fill-opacity="0.87" stroke="#dc16b6" stroke-opacity="0.66" stroke-width="0.8"/><circle cx="383.3" cy="506.7" r="6.5" fill="#dc16b6" fill-opacity="0.87" stroke="#dc16b6" stroke-opacity="0.66" stroke-width="0.8"/><circle cx="530.0" cy="462.2" r="6.5" fill="#dc16b6" fill-opacity="0.87" stroke="#dc16b6" stroke-opacity="0.66" stroke-width="0.8"/><circle cx="547.8" cy="462.2" r="6.5" fill="#dc16b6" fill-opacity="0.87" stroke="#dc16b6" stroke-opacity="0.66" stroke-width="0.8"/><circle cx="216.7" cy="577.8" r="5.9" fill="#0a85ff" fill-opacity="0.87" stroke="#0a85ff" stroke-opacity="0.66" stroke-width="0.8"/><circle cx="223.3" cy="584.4" r="5.9" fill="#0a85ff" fill-opacity="0.87" stroke="#0a85ff" stroke-opacity="0.66" stroke-width="0.8"/><circle cx="227.8" cy="593.3" r="5.9" fill="#0a85ff" fill-opacity="0.87" stroke="#0a85ff" stroke-opacity="0.66" stroke-width="0.8"/><circle cx="334.4" cy="495.6" r="5.9" fill="#0a85ff" fill-opacity="0.87" stroke="#0a85ff" stroke-opacity="0.66" stroke-width="0.8"/><circle cx="343.3" cy="493.3" r="5.9" fill="#0a85ff" fill-opacity="0.87" stroke="#0a85ff" stroke-opacity="0.66" stroke-width="0.8"/><circle cx="347.8" cy="500.0" r="5.9" fill="#0a85ff" fill-opacity="0.87" stroke="#0a85ff" stroke-opacity="0.66" stroke-width="0.8"/><circle cx="301.1" cy="548.9" r="5.9" fill="#0a85ff" fill-opacity="0.87" stroke="#0a85ff" stroke-opacity="0.66" stroke-width="0.8"/><circle cx="323.3" cy="617.8" r="5.9" fill="#0a85ff" fill-opacity="0.87" stroke="#0a85ff" stroke-opacity="0.66" stroke-width="0.8"/><circle cx="330.0" cy="613.3" r="5.9" fill="#0a85ff" fill-opacity="0.87" stroke="#0a85ff" stroke-opacity="0.66" stroke-width="0.8"/><circle cx="316.7" cy="622.2" r="5.9" fill="#0a85ff" fill-opacity="0.87" stroke="#0a85ff" stroke-opacity="0.66" stroke-width="0.8"/></g><rect x="660.6" y="79.5" width="169" height="136.5" rx="3" fill="#fff" stroke="#dcdcdc" stroke-width="1"/><circle cx="694.4" cy="101.1" r="5.5" fill="#de3c08"/><g font-family="'Liberation Serif', serif" fill="#111"><text x="736.9" y="107.4" font-size="25.5" textLength="57.7" lengthAdjust="spacingAndGlyphs">Level</text><text transform="translate(808.80,107.40) scale(0.792,1)" font-size="25.5" >0</text></g><circle cx="694.4" cy="132.9" r="6.9" fill="#0a85ff"/><g font-family="'Liberation Serif', serif" fill="#111"><text x="736.9" y="139.2" font-size="25.5" textLength="57.7" lengthAdjust="spacingAndGlyphs">Level</text><text transform="translate(808.80,139.20) scale(0.792,1)" font-size="25.5" >1</text></g><circle cx="694.4" cy="164.6" r="7.4" fill="#dc16b6"/><g font-family="'Liberation Serif', serif" fill="#111"><text x="736.9" y="170.9" font-size="25.5" textLength="57.7" lengthAdjust="spacingAndGlyphs">Level</text><text transform="translate(808.80,170.90) scale(0.792,1)" font-size="25.5" >2</text></g><circle cx="694.4" cy="197" r="8.2" fill="#dd8c1c"/><g font-family="'Liberation Serif', serif" fill="#111"><text x="736.9" y="203.3" font-size="25.5" textLength="57.7" lengthAdjust="spacingAndGlyphs">Level</text><text transform="translate(808.80,203.30) scale(0.792,1)" font-size="25.5" >3</text></g><text x="229.1" y="1000" font-family="'Liberation Serif', serif" font-size="48.6" fill="#000">Clustering results in 3D dotplot<tspan fill="#d42020">.</tspan></text><rect x="843.8" y="1006" width="12.5" height="1.8" fill="#d42020"/><text x="0" y="1060.2" font-family="'Liberation Sans', sans-serif" font-weight="bold" font-size="29">B</text><text x="263.2" y="1066.7" font-family="'Liberation Serif', serif" font-size="30" textLength="496" lengthAdjust="spacingAndGlyphs">Grouped Boxplot of Numbers by Labels</text><g font-family="'Liberation Serif', serif" fill="#111"><rect x="81" y="1083.5" width="861.5" height="559" fill="none" stroke="#111" stroke-width="2.2"/><line x1="72.5" y1="1617.5" x2="81" y2="1617.5" stroke="#111" stroke-width="2.2"/><text x="61.5" y="1626.5" text-anchor="end" font-size="26">0</text><line x1="72.5" y1="1545.8" x2="81" y2="1545.8" stroke="#111" stroke-width="2.2"/><text x="61.5" y="1554.8" text-anchor="end" font-size="26">10</text><line x1="72.5" y1="1474.1" x2="81" y2="1474.1" stroke="#111" stroke-width="2.2"/><text x="61.5" y="1483.1" text-anchor="end" font-size="26">20</text><line x1="72.5" y1="1402.4" x2="81" y2="1402.4" stroke="#111" stroke-width="2.2"/><text x="61.5" y="1411.4" text-anchor="end" font-size="26">30</text><line x1="72.5" y1="1330.7" x2="81" y2="1330.7" stroke="#111" stroke-width="2.2"/><text x="61.5" y="1339.7" text-anchor="end" font-size="26">40</text><line x1="72.5" y1="1259.0" x2="81" y2="1259.0" stroke="#111" stroke-width="2.2"/><text x="61.5" y="1268.0" text-anchor="end" font-size="26">50</text><line x1="72.5" y1="1187.4" x2="81" y2="1187.4" stroke="#111" stroke-width="2.2"/><text x="61.5" y="1196.4" text-anchor="end" font-size="26">60</text><line x1="72.5" y1="1115.7" x2="81" y2="1115.7" stroke="#111" stroke-width="2.2"/><text x="61.5" y="1124.7" text-anchor="end" font-size="26">70</text><line x1="189.2" y1="1643" x2="189.2" y2="1652.4" stroke="#111" stroke-width="2.2"/><text x="189.2" y="1679" text-anchor="middle" font-size="25">0</text><line x1="404.6" y1="1643" x2="404.6" y2="1652.4" stroke="#111" stroke-width="2.2"/><text x="404.6" y="1679" text-anchor="middle" font-size="25">1</text><line x1="620.0" y1="1643" x2="620.0" y2="1652.4" stroke="#111" stroke-width="2.2"/><text x="620.0" y="1679" text-anchor="middle" font-size="25">2</text><line x1="835.6" y1="1643" x2="835.6" y2="1652.4" stroke="#111" stroke-width="2.2"/><text x="835.6" y="1679" text-anchor="middle" font-size="25">3</text><text x="512.5" y="1714" text-anchor="middle" font-size="25">Level</text><text transform="translate(22,1362.5) rotate(-90)" text-anchor="middle" font-size="25">Number</text></g><line x1="189.2" y1="1474.1" x2="189.2" y2="1545.1" stroke="#3f3f3f" stroke-width="2.6"/><line x1="189.2" y1="1596.0" x2="189.2" y2="1617.5" stroke="#3f3f3f" stroke-width="2.6"/><line x1="144.7" y1="1474.1" x2="233.7" y2="1474.1" stroke="#3f3f3f" stroke-width="2.8"/><line x1="144.7" y1="1617.5" x2="233.7" y2="1617.5" stroke="#3f3f3f" stroke-width="2.8"/><rect x="102.7" y="1545.1" width="173.0" height="50.9" fill="#c1461c" stroke="#3f3f3f" stroke-width="3"/><line x1="102.7" y1="1567.3" x2="275.7" y2="1567.3" stroke="#3f3f3f" stroke-width="3"/><path d="M189.2,1363.0 L195.5,1373.8 L189.2,1384.6 L182.89999999999998,1373.8Z M189.2,1370.1 L195.5,1380.9 L189.2,1391.7 L182.89999999999998,1380.9Z M189.2,1384.5 L195.5,1395.3 L189.2,1406.1 L182.89999999999998,1395.3Z M189.2,1391.6 L195.5,1402.4 L189.2,1413.2 L182.89999999999998,1402.4Z M189.2,1406.0 L195.5,1416.8 L189.2,1427.6 L182.89999999999998,1416.8Z M189.2,1413.1 L195.5,1423.9 L189.2,1434.7 L182.89999999999998,1423.9Z M189.2,1420.3 L195.5,1431.1 L189.2,1441.9 L182.89999999999998,1431.1Z M189.2,1427.5 L195.5,1438.3 L189.2,1449.1 L182.89999999999998,1438.3Z M189.2,1434.6 L195.5,1445.4 L189.2,1456.2 L182.89999999999998,1445.4Z M189.2,1441.8 L195.5,1452.6 L189.2,1463.4 L182.89999999999998,1452.6Z M189.2,1449.0 L195.5,1459.8 L189.2,1470.6 L182.89999999999998,1459.8Z M189.2,1456.2 L195.5,1467.0 L189.2,1477.8 L182.89999999999998,1467.0Z" fill="#3f3f3f" stroke="#3f3f3f" stroke-width="1"/><line x1="404.6" y1="1345.1" x2="404.6" y2="1481.3" stroke="#3f3f3f" stroke-width="2.6"/><line x1="404.6" y1="1574.5" x2="404.6" y2="1617.5" stroke="#3f3f3f" stroke-width="2.6"/><line x1="360.1" y1="1345.1" x2="449.1" y2="1345.1" stroke="#3f3f3f" stroke-width="2.8"/><line x1="360.1" y1="1617.5" x2="449.1" y2="1617.5" stroke="#3f3f3f" stroke-width="2.8"/><rect x="318.1" y="1481.3" width="173.0" height="93.2" fill="#2183e0" stroke="#3f3f3f" stroke-width="3"/><line x1="318.1" y1="1524.3" x2="491.1" y2="1524.3" stroke="#3f3f3f" stroke-width="3"/><path d="M404.6,1255.4 L410.90000000000003,1266.2 L404.6,1277.0 L398.3,1266.2Z M404.6,1276.9 L410.90000000000003,1287.7 L404.6,1298.5 L398.3,1287.7Z M404.6,1291.3 L410.90000000000003,1302.1 L404.6,1312.9 L398.3,1302.1Z M404.6,1305.6 L410.90000000000003,1316.4 L404.6,1327.2 L398.3,1316.4Z M404.6,1312.8 L410.90000000000003,1323.6 L404.6,1334.4 L398.3,1323.6Z M404.6,1319.9 L410.90000000000003,1330.7 L404.6,1341.5 L398.3,1330.7Z M404.6,1327.1 L410.90000000000003,1337.9 L404.6,1348.7 L398.3,1337.9Z" fill="#3f3f3f" stroke="#3f3f3f" stroke-width="1"/><line x1="620.0" y1="1237.5" x2="620.0" y2="1422.5" stroke="#3f3f3f" stroke-width="2.6"/><line x1="620.0" y1="1553.0" x2="620.0" y2="1610.3" stroke="#3f3f3f" stroke-width="2.6"/><line x1="575.5" y1="1237.5" x2="664.5" y2="1237.5" stroke="#3f3f3f" stroke-width="2.8"/><line x1="575.5" y1="1610.3" x2="664.5" y2="1610.3" stroke="#3f3f3f" stroke-width="2.8"/><rect x="533.5" y="1422.5" width="173.0" height="130.5" fill="#c12da7" stroke="#3f3f3f" stroke-width="3"/><line x1="533.5" y1="1506.4" x2="706.5" y2="1506.4" stroke="#3f3f3f" stroke-width="3"/><path d="M620.0,1183.7 L626.3,1194.5 L620.0,1205.3 L613.7,1194.5Z M620.0,1190.9 L626.3,1201.7 L620.0,1212.5 L613.7,1201.7Z M620.0,1198.1 L626.3,1208.9 L620.0,1219.7 L613.7,1208.9Z M620.0,1205.2 L626.3,1216.0 L620.0,1226.8 L613.7,1216.0Z M620.0,1212.4 L626.3,1223.2 L620.0,1234.0 L613.7,1223.2Z M620.0,1219.6 L626.3,1230.4 L620.0,1241.2 L613.7,1230.4Z" fill="#3f3f3f" stroke="#3f3f3f" stroke-width="1"/><line x1="835.6" y1="1309.2" x2="835.6" y2="1445.4" stroke="#3f3f3f" stroke-width="2.6"/><line x1="835.6" y1="1538.6" x2="835.6" y2="1617.5" stroke="#3f3f3f" stroke-width="2.6"/><line x1="791.1" y1="1309.2" x2="880.1" y2="1309.2" stroke="#3f3f3f" stroke-width="2.8"/><line x1="791.1" y1="1617.5" x2="880.1" y2="1617.5" stroke="#3f3f3f" stroke-width="2.8"/><rect x="749.1" y="1445.4" width="173.0" height="93.2" fill="#c18a32" stroke="#3f3f3f" stroke-width="3"/><line x1="749.1" y1="1502.8" x2="922.1" y2="1502.8" stroke="#3f3f3f" stroke-width="3"/><path d="M835.6,1097.7 L841.9,1108.5 L835.6,1119.3 L829.3000000000001,1108.5Z M835.6,1126.4 L841.9,1137.2 L835.6,1148.0 L829.3000000000001,1137.2Z M835.6,1162.2 L841.9,1173.0 L835.6,1183.8 L829.3000000000001,1173.0Z M835.6,1169.4 L841.9,1180.2 L835.6,1191.0 L829.3000000000001,1180.2Z M835.6,1176.6 L841.9,1187.4 L835.6,1198.2 L829.3000000000001,1187.4Z M835.6,1190.9 L841.9,1201.7 L835.6,1212.5 L829.3000000000001,1201.7Z M835.6,1198.1 L841.9,1208.9 L835.6,1219.7 L829.3000000000001,1208.9Z M835.6,1205.2 L841.9,1216.0 L835.6,1226.8 L829.3000000000001,1216.0Z M835.6,1226.7 L841.9,1237.5 L835.6,1248.3 L829.3000000000001,1237.5Z M835.6,1233.9 L841.9,1244.7 L835.6,1255.5 L829.3000000000001,1244.7Z M835.6,1241.1 L841.9,1251.9 L835.6,1262.7 L829.3000000000001,1251.9Z M835.6,1248.2 L841.9,1259.0 L835.6,1269.8 L829.3000000000001,1259.0Z M835.6,1255.4 L841.9,1266.2 L835.6,1277.0 L829.3000000000001,1266.2Z M835.6,1262.6 L841.9,1273.4 L835.6,1284.2 L829.3000000000001,1273.4Z M835.6,1269.8 L841.9,1280.6 L835.6,1291.4 L829.3000000000001,1280.6Z M835.6,1276.9 L841.9,1287.7 L835.6,1298.5 L829.3000000000001,1287.7Z M835.6,1284.1 L841.9,1294.9 L835.6,1305.7 L829.3000000000001,1294.9Z M835.6,1291.3 L841.9,1302.1 L835.6,1312.9 L829.3000000000001,1302.1Z" fill="#3f3f3f" stroke="#3f3f3f" stroke-width="1"/><text x="217.1" y="1793.4" font-family="'Liberation Serif', serif" font-size="48.6" fill="#000">Calibration results boxplot<tspan fill="#d42020">.</tspan></text><rect x="737" y="1800" width="12.2" height="1.8" fill="#d42020"/>
</svg></body></html>
